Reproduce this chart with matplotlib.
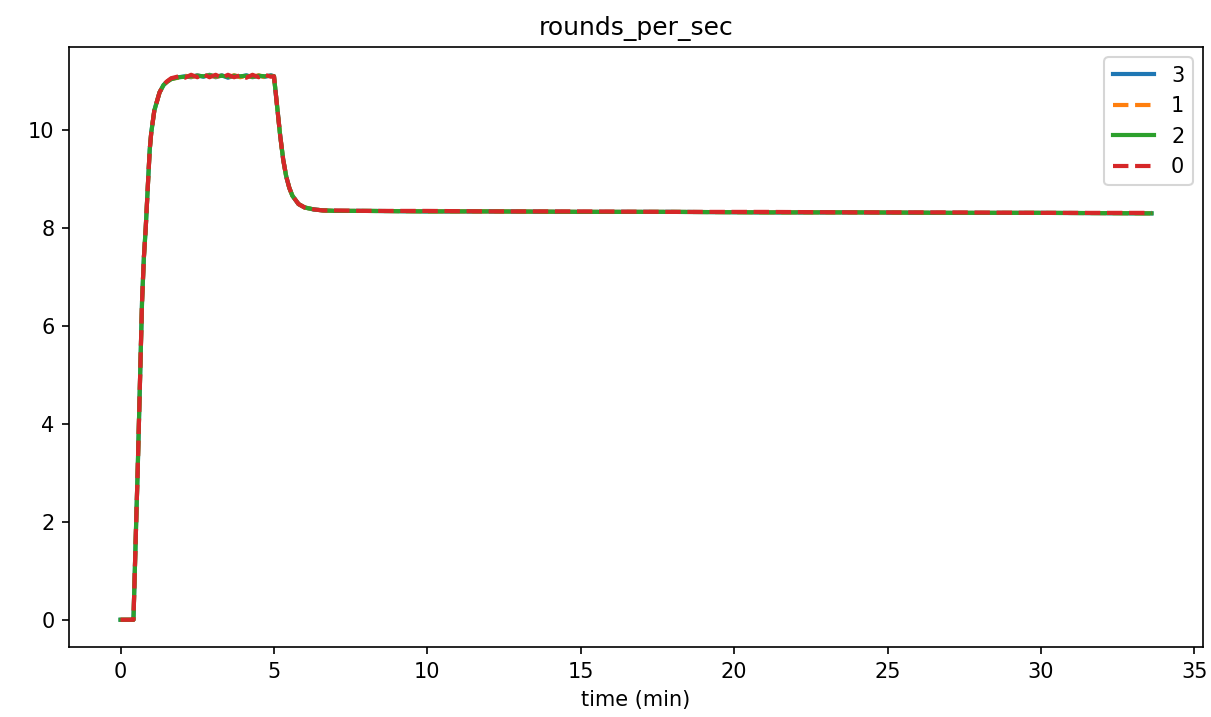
import matplotlib
matplotlib.use('Agg')
import matplotlib.pyplot as plt

# time in minutes
time = [0.0, 0.1, 0.2, 0.3, 0.42, 0.5, 0.56, 0.63, 0.7, 0.76, 0.82, 0.9, 0.95, 1.0,
        1.1, 1.27, 1.4, 1.5, 1.65, 1.9, 2.1, 2.3, 2.5, 2.7, 2.9, 3.1, 3.3, 3.5, 3.7,
        3.9, 4.1, 4.3, 4.5, 4.7, 4.9, 5.0, 5.1, 5.2, 5.3, 5.4, 5.5, 5.6, 5.8, 6.0,
        6.3, 6.6, 7.0, 8.0, 10.0, 12.0, 15.0, 18.0, 21.0, 24.0, 27.0, 30.0, 33.6]

rps_3 = [0.0, 0.0, 0.0, 0.0, 0.0, 1.8, 3.1, 4.8, 6.5, 7.4, 8.0, 9.0, 9.6, 9.95,
         10.4, 10.77, 10.92, 10.98, 11.05, 11.08, 11.1, 11.08, 11.12, 11.09, 11.13,
         11.08, 11.12, 11.07, 11.11, 11.09, 11.12, 11.08, 11.11, 11.09, 11.12, 11.1,
         10.5, 9.9, 9.4, 9.05, 8.82, 8.66, 8.49, 8.42, 8.38, 8.36, 8.35, 8.35,
         8.34, 8.34, 8.33, 8.33, 8.32, 8.32, 8.31, 8.31, 8.3]
rps_1 = [0.0, 0.0, 0.0, 0.0, 0.0, 1.8, 3.1, 4.8, 6.5, 7.4, 8.0, 9.0, 9.6, 9.95,
         10.4, 10.77, 10.92, 10.98, 11.05, 11.07, 11.11, 11.09, 11.11, 11.1, 11.12,
         11.09, 11.11, 11.08, 11.12, 11.08, 11.11, 11.09, 11.12, 11.08, 11.11, 11.1,
         10.5, 9.9, 9.4, 9.05, 8.82, 8.66, 8.49, 8.42, 8.38, 8.36, 8.35, 8.35,
         8.34, 8.34, 8.33, 8.33, 8.32, 8.32, 8.31, 8.31, 8.3]
rps_2 = [0.0, 0.0, 0.0, 0.0, 0.0, 1.8, 3.1, 4.8, 6.5, 7.4, 8.0, 9.0, 9.6, 9.95,
         10.4, 10.77, 10.92, 10.98, 11.04, 11.08, 11.09, 11.1, 11.11, 11.1, 11.12,
         11.1, 11.11, 11.09, 11.11, 11.1, 11.11, 11.09, 11.11, 11.1, 11.11, 11.1,
         10.5, 9.9, 9.4, 9.05, 8.82, 8.66, 8.49, 8.42, 8.38, 8.36, 8.35, 8.35,
         8.34, 8.34, 8.33, 8.33, 8.32, 8.32, 8.31, 8.31, 8.3]
rps_0 = [0.0, 0.0, 0.0, 0.0, 0.0, 1.8, 3.1, 4.8, 6.5, 7.4, 8.0, 9.0, 9.6, 9.95,
         10.4, 10.77, 10.92, 10.99, 11.06, 11.1, 11.07, 11.13, 11.08, 11.14, 11.08,
         11.13, 11.07, 11.13, 11.08, 11.12, 11.07, 11.13, 11.08, 11.13, 11.09, 11.1,
         10.5, 9.9, 9.4, 9.05, 8.82, 8.66, 8.49, 8.42, 8.38, 8.36, 8.36, 8.35,
         8.35, 8.34, 8.34, 8.33, 8.33, 8.32, 8.32, 8.31, 8.31]

fig, ax = plt.subplots(figsize=(1211 / 150, 717 / 150), dpi=150)

ax.plot(time, rps_3, '-', color='C0', lw=2, label='3')
ax.plot(time, rps_1, '--', color='C1', lw=2, label='1')
ax.plot(time, rps_2, '-', color='C2', lw=2, label='2')
ax.plot(time, rps_0, '--', color='C3', lw=2, label='0')

ax.set_title('rounds_per_sec')
ax.set_xlabel('time (min)')
ax.legend(loc='upper right')

plt.subplots_adjust(left=0.057, right=0.9934, top=0.9344, bottom=0.0976)
plt.savefig('out.png', dpi=150)
